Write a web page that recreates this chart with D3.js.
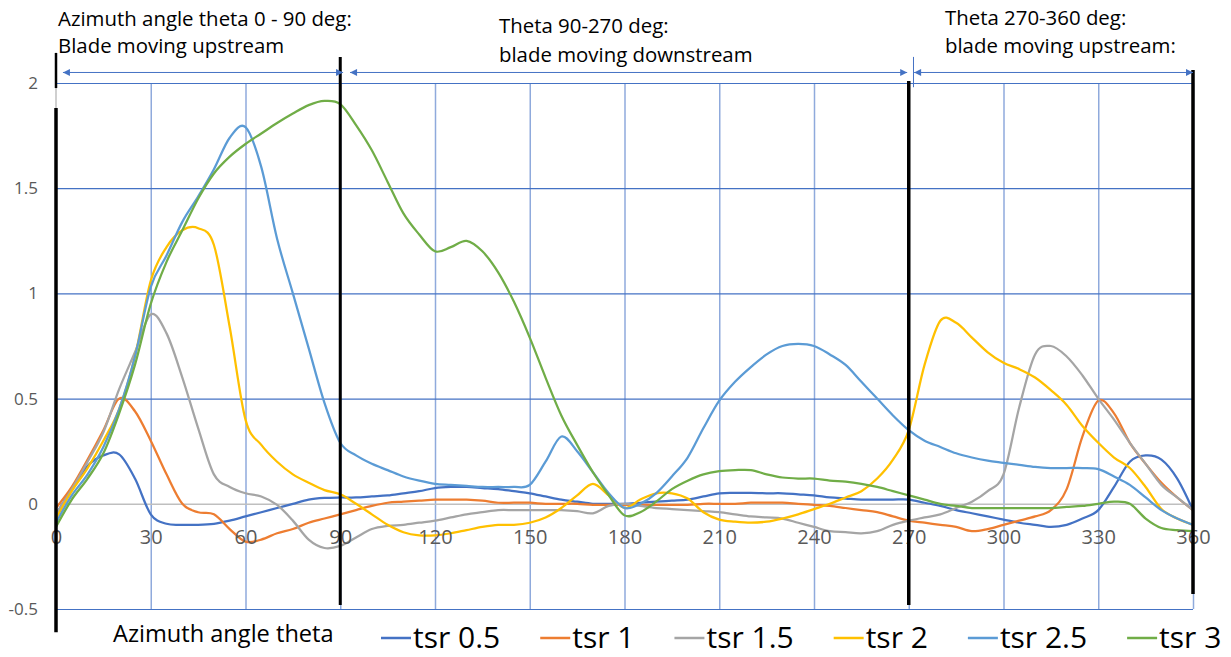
<!DOCTYPE html>
<html>
<head>
<meta charset="utf-8">
<script src="https://cdn.jsdelivr.net/npm/d3@7"></script>
<style>
    body { margin: 0; background: #fff; }
    svg { display: block; font-family: "Open Sans", "Noto Sans", sans-serif; }
</style>
</head>
<body>
<svg id="chart" width="1231" height="657"></svg>
<script>
// Azimuth angle (deg), one reading every 5 deg
const theta = [0, 5, 10, 15, 20, 25, 30, 35, 40, 45, 50, 55, 60, 65, 70, 75, 80, 85, 90, 95,
    100, 105, 110, 115, 120, 125, 130, 135, 140, 145, 150, 155, 160, 165, 170, 175, 180, 185, 190, 195,
    200, 205, 210, 215, 220, 225, 230, 235, 240, 245, 250, 255, 260, 265, 270, 275, 280, 285, 290, 295,
    300, 305, 310, 315, 320, 325, 330, 335, 340, 345, 350, 355, 360];

const tsr05 = [-0.05, 0.07, 0.18, 0.23, 0.235, 0.12, -0.05, -0.095, -0.10, -0.10,
    -0.095, -0.08, -0.06, -0.04, -0.02, 0.0, 0.02, 0.028, 0.03, 0.03,
    0.035, 0.04, 0.05, 0.06, 0.075, 0.08, 0.08, 0.075, 0.07, 0.06,
    0.05, 0.035, 0.02, 0.01, 0.0, 0.0, 0.0, 0.005, 0.01, 0.015,
    0.02, 0.035, 0.05, 0.052, 0.052, 0.05, 0.05, 0.045, 0.04, 0.03,
    0.025, 0.02, 0.02, 0.02, 0.02, 0.005, -0.01, -0.03, -0.045, -0.06,
    -0.075, -0.09, -0.10, -0.11, -0.10, -0.07, -0.03, 0.08, 0.20, 0.23,
    0.21, 0.12, -0.03];

const tsr1 = [-0.02, 0.08, 0.21, 0.35, 0.50, 0.44, 0.30, 0.14, 0.0, -0.04,
    -0.05, -0.12, -0.18, -0.17, -0.14, -0.12, -0.09, -0.07, -0.05, -0.03,
    -0.01, 0.005, 0.01, 0.015, 0.02, 0.02, 0.02, 0.015, 0.005, 0.005,
    0.005, 0.0, 0.0, 0.0, -0.005, -0.005, -0.005, -0.005, -0.005, -0.005,
    -0.005, 0.0, 0.0, 0.0, 0.005, 0.005, 0.005, 0.0, -0.005, -0.01,
    -0.02, -0.03, -0.04, -0.06, -0.08, -0.09, -0.10, -0.11, -0.13, -0.12,
    -0.10, -0.08, -0.06, -0.03, 0.07, 0.32, 0.49, 0.43, 0.29, 0.19,
    0.10, 0.03, -0.03];

const tsr15 = [-0.05, 0.07, 0.20, 0.34, 0.545, 0.72, 0.90, 0.81, 0.60, 0.36,
    0.14, 0.08, 0.05, 0.035, -0.005, -0.08, -0.17, -0.21, -0.20, -0.16,
    -0.12, -0.105, -0.10, -0.09, -0.08, -0.065, -0.05, -0.04, -0.03, -0.03,
    -0.03, -0.03, -0.03, -0.035, -0.045, -0.01, 0.0, -0.01, -0.02, -0.025,
    -0.03, -0.035, -0.04, -0.05, -0.06, -0.065, -0.07, -0.09, -0.11, -0.13,
    -0.135, -0.14, -0.13, -0.10, -0.08, -0.065, -0.05, -0.02, 0.01, 0.06,
    0.14, 0.46, 0.71, 0.75, 0.70, 0.61, 0.50, 0.40, 0.29, 0.19,
    0.09, 0.03, -0.03];

const tsr2 = [-0.07, 0.06, 0.17, 0.30, 0.45, 0.70, 1.06, 1.22, 1.30, 1.31,
    1.23, 0.84, 0.40, 0.28, 0.20, 0.14, 0.10, 0.065, 0.045, 0.0,
    -0.05, -0.10, -0.135, -0.15, -0.15, -0.14, -0.125, -0.11, -0.10, -0.10,
    -0.09, -0.065, -0.02, 0.04, 0.095, 0.04, -0.02, 0.02, 0.05, 0.05,
    0.025, -0.04, -0.075, -0.085, -0.09, -0.085, -0.07, -0.05, -0.025, 0.0,
    0.03, 0.06, 0.12, 0.21, 0.35, 0.66, 0.87, 0.86, 0.79, 0.72,
    0.67, 0.64, 0.60, 0.54, 0.47, 0.37, 0.29, 0.22, 0.17, 0.08,
    -0.025, -0.07, -0.10];

const tsr25 = [-0.09, 0.04, 0.14, 0.27, 0.45, 0.70, 1.03, 1.18, 1.34, 1.46,
    1.59, 1.74, 1.79, 1.60, 1.26, 1.00, 0.74, 0.48, 0.29, 0.23,
    0.19, 0.16, 0.13, 0.11, 0.095, 0.09, 0.085, 0.08, 0.08, 0.08,
    0.09, 0.20, 0.32, 0.25, 0.15, 0.05, -0.02, 0.0, 0.05, 0.13,
    0.22, 0.36, 0.49, 0.58, 0.65, 0.71, 0.75, 0.76, 0.75, 0.71,
    0.66, 0.58, 0.50, 0.42, 0.35, 0.30, 0.27, 0.24, 0.22, 0.205,
    0.195, 0.185, 0.175, 0.17, 0.17, 0.17, 0.165, 0.13, 0.09, 0.03,
    -0.03, -0.07, -0.10];

const tsr3 = [-0.11, 0.02, 0.12, 0.24, 0.43, 0.66, 0.95, 1.15, 1.30, 1.45,
    1.57, 1.65, 1.71, 1.76, 1.81, 1.855, 1.895, 1.915, 1.90, 1.80,
    1.68, 1.53, 1.38, 1.28, 1.20, 1.22, 1.25, 1.20, 1.10, 0.96,
    0.79, 0.60, 0.42, 0.28, 0.15, 0.04, -0.055, -0.04, 0.01, 0.07,
    0.11, 0.14, 0.155, 0.16, 0.16, 0.14, 0.125, 0.12, 0.12, 0.11,
    0.105, 0.095, 0.08, 0.06, 0.04, 0.02, 0.0, -0.01, -0.02, -0.02,
    -0.02, -0.02, -0.02, -0.02, -0.015, -0.01, 0.0, 0.01, 0.0, -0.07,
    -0.115, -0.125, -0.13];

const seriesNames = ['tsr 0.5', 'tsr 1', 'tsr 1.5', 'tsr 2', 'tsr 2.5', 'tsr 3'];
const seriesColors = ['#4472C4', '#ED7D31', '#A5A5A5', '#FFC000', '#5B9BD5', '#70AD47'];
const seriesValues = [tsr05, tsr1, tsr15, tsr2, tsr25, tsr3];

const xTicks = [0, 30, 60, 90, 120, 150, 180, 210, 240, 270, 300, 330, 360];
const yTicks = [-0.5, 0, 0.5, 1, 1.5, 2];

// black sector dividers (theta, top value, bottom value)
const dividers = [
    { t: 0, top: 2.143, bottom: 1.976, w: 2.5 },
    { t: 0, top: 1.881, bottom: -0.61, w: 3.5 },
    { t: 90, top: 2.124, bottom: -0.481, w: 3 },
    { t: 270, top: 2.01, bottom: -0.481, w: 3.5 },
    { t: 360, top: 2.062, bottom: -0.429, w: 3.5 }
];

// double arrows marking the sectors
const arrows = [
    { from: 2.2, to: 90.9 },
    { from: 93.1, to: 269.5 },
    { from: 271.7, to: 360 }
];

const notes = [
    { x: 58, y: 26, text: 'Azimuth angle theta 0 - 90 deg:' },
    { x: 58, y: 53, text: 'Blade moving upstream' },
    { x: 499, y: 33, text: 'Theta 90-270 deg:' },
    { x: 499, y: 62, text: 'blade moving downstream' },
    { x: 945, y: 25, text: 'Theta 270-360 deg:' },
    { x: 945, y: 53, text: 'blade moving upstream:' }
];

const svg = d3.select('#chart');

const x = d3.scaleLinear().domain([0, 360]).range([56, 1193]);
const y = d3.scaleLinear().domain([-0.5, 2]).range([609, 83]);

// vertical gridlines
svg.append('g')
    .attr('transform', `translate(0, ${y(-0.5)})`)
    .call(d3.axisBottom(x).tickValues(xTicks.slice(1)).tickSize(-(y(-0.5) - y(2))).tickFormat(''))
    .call(g => g.select('.domain').remove())
    .selectAll('line')
    .attr('stroke', '#8FAADC')
    .attr('stroke-width', 1.5);

// horizontal gridlines
svg.append('g')
    .attr('transform', `translate(${x(0)}, 0)`)
    .call(d3.axisLeft(y).tickValues(yTicks).tickSize(-(x(360) - x(0))).tickFormat(''))
    .call(g => g.select('.domain').remove())
    .selectAll('.tick line')
    .attr('stroke', d => d === 0 ? '#BFBFBF' : '#4472C4')
    .attr('stroke-width', d => d === 0 ? 1.6 : 1.2);

// y axis line
svg.append('line')
    .attr('x1', x(0)).attr('x2', x(0))
    .attr('y1', y(2)).attr('y2', y(-0.5))
    .attr('stroke', '#BFBFBF')
    .attr('stroke-width', 1.5);

// y tick labels
svg.append('g')
    .attr('transform', `translate(${x(0)}, 0)`)
    .call(d3.axisLeft(y).tickValues(yTicks).tickSize(0).tickPadding(18).tickFormat(d => String(d)))
    .call(g => g.select('.domain').remove())
    .selectAll('text')
    .style('font-family', '"Open Sans", sans-serif')
    .style('font-size', '17px')
    .attr('fill', '#595959');

// series
const line = d3.line()
    .x((d, i) => x(theta[i]))
    .y(d => y(d))
    .curve(d3.curveCatmullRom.alpha(0));

seriesValues.forEach((vals, i) => {
    svg.append('path')
        .datum(vals)
        .attr('d', line)
        .attr('fill', 'none')
        .attr('stroke', seriesColors[i])
        .attr('stroke-width', 2.25)
        .attr('stroke-linejoin', 'round');
});

// x tick labels sit just under the zero line
svg.append('g')
    .attr('transform', `translate(0, ${y(0)})`)
    .call(d3.axisBottom(x).tickValues(xTicks).tickSize(0).tickPadding(26))
    .call(g => g.select('.domain').remove())
    .selectAll('text')
    .style('font-family', '"Open Sans", sans-serif')
    .style('font-size', '20px')
    .attr('fill', '#595959');

// black dividers
svg.append('g')
    .selectAll('line')
    .data(dividers)
    .enter()
    .append('line')
    .attr('x1', d => x(d.t)).attr('x2', d => x(d.t))
    .attr('y1', d => y(d.top)).attr('y2', d => y(d.bottom))
    .attr('stroke', '#000')
    .attr('stroke-width', d => d.w);

// arrows
svg.append('defs').append('marker')
    .attr('id', 'head')
    .attr('viewBox', '0 0 10 10')
    .attr('refX', 10).attr('refY', 5)
    .attr('markerWidth', 9).attr('markerHeight', 7)
    .attr('markerUnits', 'userSpaceOnUse')
    .attr('orient', 'auto-start-reverse')
    .append('path')
    .attr('d', 'M0,0L10,5L0,10Z')
    .attr('fill', '#4472C4');

const arrowY = y(2.05);
svg.append('g')
    .selectAll('line')
    .data(arrows)
    .enter()
    .append('line')
    .attr('x1', d => x(d.from)).attr('x2', d => x(d.to))
    .attr('y1', arrowY).attr('y2', arrowY)
    .attr('stroke', '#4472C4')
    .attr('stroke-width', 1)
    .attr('marker-start', 'url(#head)')
    .attr('marker-end', 'url(#head)');

svg.append('line')
    .attr('x1', x(271.5)).attr('x2', x(271.5))
    .attr('y1', y(2.124)).attr('y2', y(1.98))
    .attr('stroke', '#4472C4')
    .attr('stroke-width', 1);

// sector notes
svg.append('g')
    .selectAll('text')
    .data(notes)
    .enter()
    .append('text')
    .attr('x', d => d.x)
    .attr('y', d => d.y)
    .style('font-size', '20.4px')
    .attr('fill', '#000')
    .text(d => d.text);

// x axis title
svg.append('text')
    .attr('x', 113)
    .attr('y', 642)
    .style('font-size', '23.6px')
    .attr('fill', '#000')
    .text('Azimuth angle theta');

// legend
const legend = svg.append('g');
let lx = 381;
seriesNames.forEach((name, i) => {
    legend.append('line')
        .attr('x1', lx).attr('x2', lx + 30)
        .attr('y1', 638).attr('y2', 638)
        .attr('stroke', seriesColors[i])
        .attr('stroke-width', 2.5);
    const t = legend.append('text')
        .attr('x', lx + 32)
        .attr('y', 648)
        .style('font-size', '30px')
        .attr('fill', '#000')
        .text(name);
    lx += 32 + t.node().getComputedTextLength() + 40;
});
</script>
</body>
</html>
